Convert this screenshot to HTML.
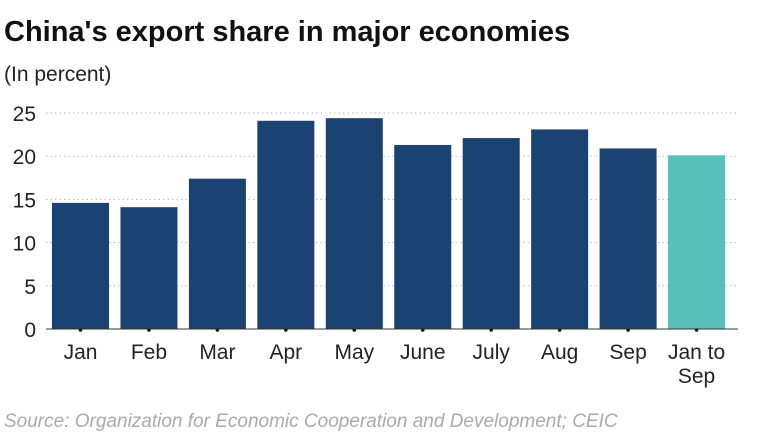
<!DOCTYPE html>
<html><head><meta charset="utf-8"><style>
body{margin:0;background:#fff;width:769px;height:434px;overflow:hidden;font-family:"Liberation Sans",Arial,sans-serif}
</style></head><body>
<svg width="769" height="434" xmlns="http://www.w3.org/2000/svg">
<text x="4" y="41" font-size="29" font-weight="bold" fill="#111">China's export share in major economies</text>
<text x="4" y="81" font-size="21" fill="#222">(In percent)</text>
<g id="grid"></g>
<g id="bars"></g>
<g id="xl"></g>
<g id="yl"></g>
<text x="4" y="427" font-size="19" font-style="italic" fill="#aaa">Source: Organization for Economic Cooperation and Development; CEIC</text>
</svg>
<script>
const categories=["Jan","Feb","Mar","Apr","May","June","July","Aug","Sep","Jan to|Sep"];
const values=[14.6,14.1,17.4,24.1,24.4,21.3,22.1,23.1,20.9,20.1];
const yTicks=[0,5,10,15,20,25];
const NS="http://www.w3.org/2000/svg";
const y0=329,pxPer=8.64,x0=46,step=68.45,bw=57;
const y=v=>y0-v*pxPer;
const x=i=>x0+6+i*step;
function mk(t,a,p){const e=document.createElementNS(NS,t);for(const k in a)e.setAttribute(k,a[k]);p.appendChild(e);return e;}
const grid=document.getElementById('grid'),yl=document.getElementById('yl'),bars=document.getElementById('bars'),xl=document.getElementById('xl');
yTicks.forEach(t=>{
 if(t>0){const g=mk('line',{x1:x0,x2:738,y1:y(t),y2:y(t),stroke:'#bbb','stroke-dasharray':'1.5,3'},grid);
 
 }
 const l=mk('text',{x:36,y:y(t)+8,'font-size':21,'text-anchor':'end',fill:'#222'},yl);l.textContent=t;
 
 
});
values.forEach((v,i)=>{
 const r=mk('rect',{x:x(i),y:y(v),width:bw,height:y0-y(v),fill:i==values.length-1?'#5bbfb9':'#1a4272'},bars);
 
 
 const cx=x(i)+bw/2;
 const d=mk('circle',{cx:cx,cy:y0+1,r:1.8,fill:'#111'},xl);
 
 
 categories[i].split('|').forEach((s,j)=>{
  const t=mk('text',{x:cx,y:359+j*24,'font-size':21,'text-anchor':'middle',fill:'#222'},xl);t.textContent=s;
  
  
 });
});
const b=mk('line',{x1:x0,x2:738,y1:y0,y2:y0,stroke:'#333','stroke-width':1},xl);


</script>
</body></html>
